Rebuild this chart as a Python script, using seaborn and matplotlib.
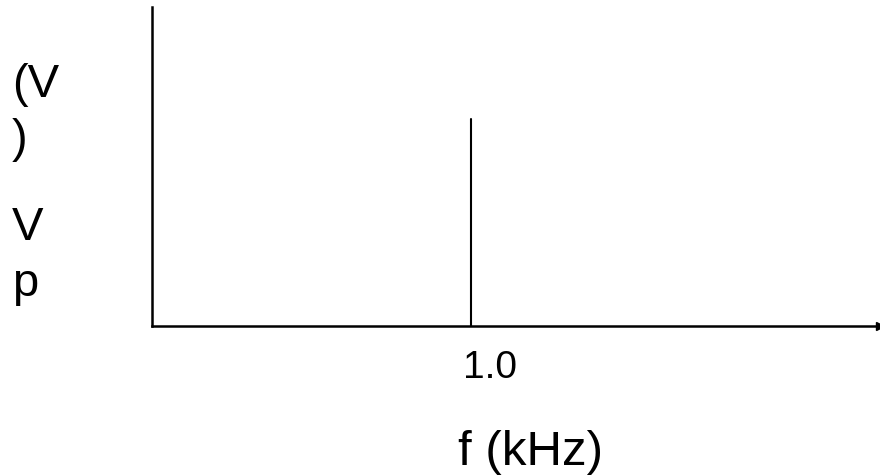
import matplotlib
matplotlib.use("Agg")
import matplotlib.pyplot as plt
import matplotlib.transforms as mtransforms
import seaborn as sns
import pandas as pd

# Data
freq_khz = [1.0, 1.0]          # spectral line at 1.0 kHz
amplitude = [0.0, 0.65]        # relative peak amplitude
x_ticks = [1.0]
x_tick_labels = ["1.0"]
x_label = "f (kHz)"
y_label_lines = ["(V", ")", "V", "p"]

sns.set_theme(style="white")
plt.rcParams["font.family"] = ["Liberation Sans", "DejaVu Sans"]

fig = plt.figure(figsize=(8.8, 4.77), dpi=100)
ax = fig.add_axes([152 / 880, 1 - 327 / 477, 1 - 152 / 880, (327 - 8) / 477])

df = pd.DataFrame({"f": freq_khz, "v": amplitude})
sns.lineplot(data=df, x="f", y="v", estimator=None, sort=False,
             color="black", linewidth=1.5, ax=ax)

xmax = 2.28
ax.set_xlim(0, xmax)
ax.set_ylim(0, 1)

for s in ["top", "right"]:
    ax.spines[s].set_visible(False)
for s in ["left", "bottom"]:
    ax.spines[s].set_color("black")
    ax.spines[s].set_linewidth(1.8)

# arrow head at right end of x axis
ax.plot([xmax], [0], marker=">", color="black", markersize=6,
        clip_on=False, transform=ax.transData)

ax.set_yticks([])
ax.set_xticks(x_ticks)
ax.set_xticklabels(x_tick_labels, fontsize=28)
ax.tick_params(axis="x", length=0, pad=16.5, colors="black")
offset = mtransforms.ScaledTranslation(19 / 100, 0, fig.dpi_scale_trans)
for lbl in ax.get_xticklabels():
    lbl.set_transform(lbl.get_transform() + offset)

ax.set_xlabel("")
ax.set_ylabel("")
fig.text(531 / 880, 1 - 465 / 477, x_label, fontsize=35.5, ha="center",
         va="baseline", color="black")

baselines = [97, 152, 240, 296]
for txt, yb in zip(y_label_lines, baselines):
    fig.text(12 / 880, 1 - yb / 477, txt, fontsize=34, ha="left",
             va="baseline", color="black")

fig.savefig("out.png", dpi=100, facecolor="white")
